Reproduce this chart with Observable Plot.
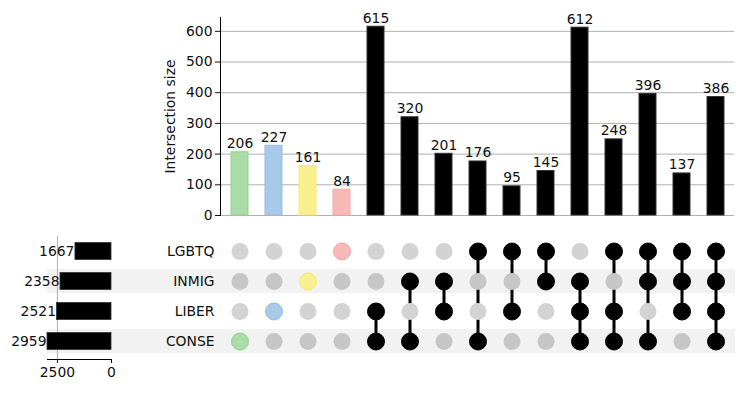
<!DOCTYPE html>
<html><head><meta charset="utf-8">
<script src="https://cdn.jsdelivr.net/npm/d3@7"></script>
<script src="https://cdn.jsdelivr.net/npm/@observablehq/plot@0.6"></script>
<style>
body{margin:0;background:#fff;}
#chart{position:relative;width:744px;height:394px;}
#chart svg{position:absolute;left:0;top:0;}
</style></head><body><div id="chart"></div>
<script>
// Sets (matrix rows, top to bottom) and their total sizes
const sets = ["LGBTQ", "INMIG", "LIBER", "CONSE"];
const setSizes = [1667, 2358, 2521, 2959];
const shadedRows = ["INMIG", "CONSE"];

// Intersections (columns, left to right)
const memberships = [
  ["CONSE"], ["LIBER"], ["INMIG"], ["LGBTQ"],
  ["LIBER", "CONSE"], ["INMIG", "CONSE"], ["INMIG", "LIBER"],
  ["LGBTQ", "CONSE"], ["LGBTQ", "LIBER"], ["LGBTQ", "INMIG"],
  ["INMIG", "LIBER", "CONSE"], ["LGBTQ", "LIBER", "CONSE"],
  ["LGBTQ", "INMIG", "CONSE"], ["LGBTQ", "INMIG", "LIBER"],
  ["LGBTQ", "INMIG", "LIBER", "CONSE"]
];
const counts = [206, 227, 161, 84, 615, 320, 201, 176, 95, 145, 612, 248, 396, 137, 386];
const highlightFills = ["#abdca7", "#a9c9e9", "#f8f08e", "#f8b9b9"];
const highlightEdges = ["#94d190", "#93bce5", "#f2e878", "#f3a6a6"];
const yTicks = [0, 100, 200, 300, 400, 500, 600];
const sizeTicks = [2500, 0];

const FS = 13.9;
const cols = counts.map((_, i) => "c" + i);
const colFill = i => i < highlightFills.length ? highlightFills[i] : "#000";
const colEdge = i => i < highlightEdges.length ? highlightEdges[i] : "#333";

const bars = counts.map((v, i) => ({col: cols[i], value: v, fill: colFill(i), edge: colEdge(i)}));
const dots = [];
memberships.forEach((m, i) => {
  sets.forEach(s => {
    const on = m.includes(s);
    let fill, stroke;
    if (on) { fill = colFill(i); stroke = i < highlightFills.length ? colEdge(i) : "#000"; }
    else { fill = shadedRows.includes(s) ? "#c6c6c6" : "#d3d3d3"; stroke = "none"; }
    dots.push({col: cols[i], set: s, fill, stroke});
  });
});
const links = [];
memberships.forEach((m, i) => {
  if (m.length > 1) m.forEach(s => links.push({col: cols[i], set: s}));
});
const sizes = sets.map((s, i) => ({set: s, size: setSizes[i]}));

const xCols = {type: "band", domain: cols, paddingInner: 0.5, paddingOuter: 0.25, axis: null};
const yRows = {type: "band", domain: sets, range: [236, 356], padding: 0, axis: null};
const baseStyle = "background:transparent;font-family:'DejaVu Sans',sans-serif;font-size:13.9px;color:#111;overflow:visible;";
const chart = document.getElementById("chart");

// Row shading (spans the full figure width)
chart.append(Plot.plot({
  width: 744, height: 394, marginLeft: 47, marginRight: 9, marginTop: 236, marginBottom: 38,
  style: baseStyle,
  y: yRows,
  marks: [Plot.cell(shadedRows, {y: d => d, fill: "#f2f2f2", insetTop: 3, insetBottom: 3})]
}));

// Set sizes (left)
chart.append(Plot.plot({
  width: 744, height: 394, marginLeft: 47, marginRight: 633, marginTop: 236, marginBottom: 35,
  style: baseStyle,
  x: {domain: [0, 2959], reverse: true},
  y: yRows,
  marks: [
    Plot.gridX(sizeTicks.filter(d => d > 0), {stroke: "#b0b0b0", strokeOpacity: 1}),
    Plot.barX(sizes, {x: "size", y: "set", fill: "#000", stroke: "#333", strokeWidth: 0.8, insetTop: 6.5, insetBottom: 6.5}),
    Plot.text(sizes, {x: "size", y: "set", text: d => String(d.size), textAnchor: "end", dx: -1, fill: "#111", fontSize: FS}),
    Plot.frame({anchor: "bottom", stroke: "#000"}),
    Plot.axisX({ticks: sizeTicks, anchor: "bottom", tickSize: 4, tickPadding: 4, tickFormat: d => String(d), label: null, fontSize: FS, fill: "#111"})
  ]
}));

// Matrix
chart.append(Plot.plot({
  width: 744, height: 394, marginLeft: 220, marginRight: 10, marginTop: 236, marginBottom: 38,
  style: baseStyle,
  x: xCols,
  y: yRows,
  marks: [
    Plot.axisY({anchor: "left", tickSize: 0, tickPadding: 6, label: null, fontSize: FS, fill: "#111"}),
    Plot.line(links, {x: "col", y: "set", z: "col", stroke: "#000", strokeWidth: 3}),
    Plot.dot(dots, {x: "col", y: "set", r: 8.5, fill: "fill", stroke: "stroke", strokeWidth: 1})
  ]
}));

// Intersection sizes (top)
chart.append(Plot.plot({
  width: 744, height: 220, marginLeft: 220, marginRight: 10, marginTop: 17, marginBottom: 5,
  style: baseStyle,
  x: xCols,
  y: {domain: [0, 645], axis: null},
  marks: [
    Plot.gridY(yTicks, {stroke: "#b0b0b0", strokeOpacity: 1}),
    Plot.barY(bars, {x: "col", y: "value", fill: "fill", stroke: "edge", strokeWidth: 1}),
    Plot.text(bars, {x: "col", y: "value", text: d => String(d.value), lineAnchor: "bottom", dy: -4, fill: "#111", fontSize: FS}),
    Plot.frame({anchor: "left", stroke: "#000"}),
    Plot.axisY({ticks: yTicks, anchor: "left", tickSize: 5, tickPadding: 3, label: "Intersection size",
      labelAnchor: "center", labelArrow: "none", labelOffset: 55, fontSize: FS, fill: "#111"})
  ]
}));
</script></body></html>
